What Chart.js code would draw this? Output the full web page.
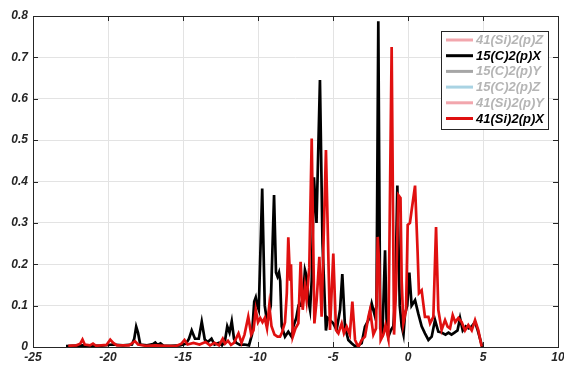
<!DOCTYPE html>
<html>
<head>
<meta charset="utf-8">
<script src="https://cdn.jsdelivr.net/npm/chart.js@4.4.0/dist/chart.umd.min.js"></script>
<style>
html,body{margin:0;padding:0;background:#fff;}
#wrap{width:564px;height:366px;}
</style>
</head>
<body>
<div id="wrap"><canvas id="pdos" width="564" height="366"></canvas></div>
<script>
'use strict';

// legend entries (greyed ones are hidden series)
var legendLabels = ['41(Si)2(p)Z', '15(C)2(p)X', '15(C)2(p)Y', '15(C)2(p)Z', '41(Si)2(p)Y', '41(Si)2(p)X'];
var legendShown  = [false, true, false, false, false, true];

var xTicks = [-25, -20, -15, -10, -5, 0, 5, 10];
var yTicks = [0, 0.1, 0.2, 0.3, 0.4, 0.5, 0.6, 0.7, 0.8];

// 15(C)2(p)X
var cEnergy = [-22.8,-21.7,-20.5,-19.7,-19.0,-18.4,-18.25,-18.12,-18.0,-17.85,
  -17.4,-17.0,-16.85,-16.7,-16.5,-16.3,-15.8,-15.2,-14.8,-14.6,
  -14.42,-14.2,-13.95,-13.75,-13.55,-13.35,-13.1,-12.9,-12.6,-12.4,
  -12.2,-12.05,-11.9,-11.75,-11.6,-11.45,-11.2,-10.9,-10.6,-10.4,
  -10.25,-10.15,-10.05,-9.95,-9.72,-9.55,-9.38,-9.15,-8.93,-8.8,
  -8.7,-8.6,-8.52,-8.42,-8.2,-7.98,-7.76,-7.64,-7.45,-7.3,
  -7.15,-7.0,-6.87,-6.75,-6.64,-6.53,-6.42,-6.27,-6.1,-5.87,
  -5.7,-5.47,-5.35,-5.2,-4.98,-4.76,-4.53,-4.38,-4.2,-3.98,
  -3.76,-3.53,-3.3,-3.09,-2.87,-2.64,-2.42,-2.22,-2.1,-1.98,
  -1.85,-1.7,-1.53,-1.42,-1.31,-1.15,-0.98,-0.85,-0.71,-0.55,
  -0.42,-0.3,-0.2,-0.05,0.09,0.24,0.47,0.69,0.91,1.13,
  1.36,1.58,1.8,2.02,2.24,2.5,2.7,2.9,3.1,3.3,
  3.47,3.65,3.85,4.05,4.25,4.47,4.65,4.8,4.95];
var cDos = [0.002,0.004,0.003,0.006,0.004,0.006,0.02,0.049,0.035,0.006,
  0.004,0.007,0.011,0.005,0.009,0.003,0.003,0.004,0.008,0.02,
  0.04,0.02,0.02,0.061,0.018,0.012,0.02,0.006,0.01,0.004,
  0.015,0.05,0.035,0.062,0.02,0.01,0.005,0.006,0.004,0.03,
  0.11,0.12,0.1,0.09,0.383,0.1,0.057,0.1,0.367,0.18,
  0.17,0.18,0.16,0.05,0.025,0.037,0.025,0.05,0.07,0.1,
  0.1,0.12,0.186,0.17,0.113,0.09,0.16,0.41,0.30,0.645,
  0.25,0.04,0.07,0.065,0.057,0.041,0.09,0.176,0.049,0.017,
  0.009,0.002,0.004,0.009,0.049,0.065,0.105,0.077,0.1,0.787,
  0.045,0.035,0.234,0.05,0.025,0.04,0.05,0.12,0.39,0.1,
  0.05,0.03,0.08,0.1,0.18,0.1,0.113,0.08,0.05,0.033,
  0.017,0.025,0.065,0.037,0.035,0.03,0.035,0.03,0.035,0.04,
  0.07,0.04,0.05,0.045,0.05,0.06,0.04,0.02,0.0];

// 41(Si)2(p)X
var siEnergy = [-22.65,-22.1,-21.85,-21.7,-21.55,-21.2,-21.0,-20.8,-20.1,-19.85,
  -19.65,-19.4,-18.6,-18.2,-18.0,-17.5,-16.8,-16.2,-15.5,-15.1,
  -14.9,-14.7,-14.3,-13.9,-13.5,-13.2,-12.9,-12.6,-12.35,-12.2,
  -12.0,-11.8,-11.6,-11.3,-11.1,-10.9,-10.65,-10.45,-10.3,-10.15,
  -10.0,-9.85,-9.7,-9.55,-9.4,-9.25,-9.1,-8.9,-8.7,-8.53,
  -8.4,-8.2,-8.08,-7.98,-7.86,-7.8,-7.68,-7.5,-7.31,-7.16,
  -7.02,-6.87,-6.76,-6.58,-6.42,-6.24,-6.09,-5.91,-5.76,-5.47,
  -5.2,-4.98,-4.8,-4.64,-4.42,-4.27,-4.09,-3.88,-3.71,-3.53,
  -3.31,-3.09,-2.87,-2.64,-2.53,-2.31,-2.13,-2.02,-1.92,-1.82,
  -1.64,-1.5,-1.31,-1.09,-0.93,-0.8,-0.64,-0.5,-0.42,-0.31,
  -0.13,-0.02,0.13,0.24,0.47,0.64,0.73,0.91,1.02,1.13,
  1.36,1.47,1.69,1.87,2.02,2.24,2.47,2.64,2.8,2.98,
  3.15,3.36,3.58,3.8,4.02,4.25,4.47,4.69,4.91];
var siDos = [0.003,0.004,0.008,0.018,0.006,0.004,0.008,0.003,0.005,0.018,
  0.01,0.004,0.004,0.014,0.006,0.003,0.004,0.003,0.002,0.008,
  0.017,0.006,0.01,0.006,0.012,0.004,0.01,0.004,0.02,0.008,
  0.015,0.005,0.01,0.033,0.01,0.03,0.073,0.03,0.04,0.09,
  0.06,0.07,0.06,0.07,0.045,0.1,0.05,0.03,0.025,0.025,
  0.035,0.06,0.13,0.265,0.16,0.2,0.025,0.045,0.057,0.206,
  0.09,0.146,0.113,0.193,0.504,0.057,0.113,0.218,0.073,0.476,
  0.041,0.226,0.041,0.033,0.057,0.033,0.049,0.03,0.11,0.017,
  0.0,0.017,0.025,0.073,0.09,0.03,0.045,0.266,0.2,0.017,
  0.03,0.053,0.02,0.725,0.03,0.14,0.367,0.36,0.158,0.057,
  0.09,0.295,0.3,0.33,0.39,0.23,0.13,0.137,0.105,0.073,
  0.073,0.057,0.073,0.29,0.09,0.041,0.065,0.049,0.045,0.077,
  0.06,0.07,0.06,0.04,0.053,0.04,0.065,0.04,0.001];

function pts(xs, ys) {
    return xs.map(function(x, i) { return { x: x, y: ys[i] }; });
}

var AXIS = '#262626';
var FONT = 'Liberation Sans, Arial, Helvetica, sans-serif';
var legendColors = ['#f2a6ad', '#000000', '#a6a6a6', '#a9d3e3', '#f2a6ad', '#e01010'];

// MATLAB style box + inward ticks + legend
var boxPlugin = {
    id: 'box',
    beforeDatasetsDraw: function(chart) {
        var ctx = chart.ctx, a = chart.chartArea;
        var sx = chart.scales.x, sy = chart.scales.y;
        ctx.save();
        ctx.strokeStyle = AXIS;
        ctx.lineWidth = 1;
        ctx.strokeRect(Math.round(a.left) + 0.5, Math.round(a.top) + 0.5, Math.round(a.right - a.left), Math.round(a.bottom - a.top));
        ctx.beginPath();
        yTicks.forEach(function(v) {
            var y = Math.round(sy.getPixelForValue(v)) + 0.5;
            ctx.moveTo(a.left, y); ctx.lineTo(a.left + 5, y);
            ctx.moveTo(a.right, y); ctx.lineTo(a.right - 5, y);
        });
        xTicks.forEach(function(v) {
            var x = Math.round(sx.getPixelForValue(v)) + 0.5;
            ctx.moveTo(x, a.bottom); ctx.lineTo(x, a.bottom - 5);
            ctx.moveTo(x, a.top); ctx.lineTo(x, a.top + 5);
        });
        ctx.stroke();
        ctx.restore();
    },
    afterDraw: function(chart) {
        var ctx = chart.ctx;
        var bx = 441, by = 31, bw = 107, bh = 98;
        ctx.save();
        ctx.fillStyle = '#fff';
        ctx.fillRect(bx, by, bw, bh);
        ctx.strokeStyle = AXIS;
        ctx.lineWidth = 1;
        ctx.strokeRect(bx + 0.5, by + 0.5, bw, bh);
        ctx.font = 'italic bold 13px ' + FONT;
        ctx.textBaseline = 'middle';
        legendLabels.forEach(function(lbl, i) {
            var y = 40 + i * 15.7;
            ctx.strokeStyle = legendColors[i];
            ctx.lineWidth = 3;
            ctx.beginPath();
            ctx.moveTo(446, y); ctx.lineTo(473, y);
            ctx.stroke();
            ctx.fillStyle = legendShown[i] ? '#000' : '#b5b5b5';
            ctx.fillText(lbl, 476, y + 0.5);
        });
        ctx.restore();
    }
};

new Chart(document.getElementById('pdos'), {
    type: 'line',
    data: {
        datasets: [
            { label: legendLabels[5], data: pts(siEnergy, siDos), borderColor: '#e01010', borderWidth: 2.7, pointRadius: 0, tension: 0, fill: false },
            { label: legendLabels[1], data: pts(cEnergy, cDos), borderColor: '#000000', borderWidth: 2.7, pointRadius: 0, tension: 0, fill: false }
        ]
    },
    options: {
        responsive: false,
        animation: false,
        devicePixelRatio: 1,
        layout: { padding: { left: 0, top: 16, right: 6, bottom: 0 } },
        plugins: { legend: { display: false }, tooltip: { enabled: false } },
        scales: {
            x: {
                type: 'linear', min: -25, max: 10,
                afterBuildTicks: function(s) { s.ticks = xTicks.map(function(v) { return { value: v }; }); },
                ticks: { color: AXIS, font: { family: FONT, size: 12, style: 'italic', weight: 'bold' }, padding: 3, maxRotation: 0 },
                grid: { color: '#e3e3e3', drawTicks: false },
                border: { display: false },
                afterFit: function(s) { s.height = 19; s.paddingLeft = 0; s.paddingRight = 0; }
            },
            y: {
                type: 'linear', min: 0, max: 0.8,
                afterBuildTicks: function(s) { s.ticks = yTicks.map(function(v) { return { value: v }; }); },
                ticks: {
                    color: AXIS, font: { family: FONT, size: 12, style: 'italic', weight: 'bold' }, padding: 5,
                    callback: function(v) { return v === 0 ? '0' : v.toFixed(1); }
                },
                grid: { color: '#e3e3e3', drawTicks: false },
                border: { display: false },
                afterFit: function(s) { s.width = 33; s.paddingTop = 0; s.paddingBottom = 0; }
            }
        }
    },
    plugins: [boxPlugin]
});
</script>
</body>
</html>
